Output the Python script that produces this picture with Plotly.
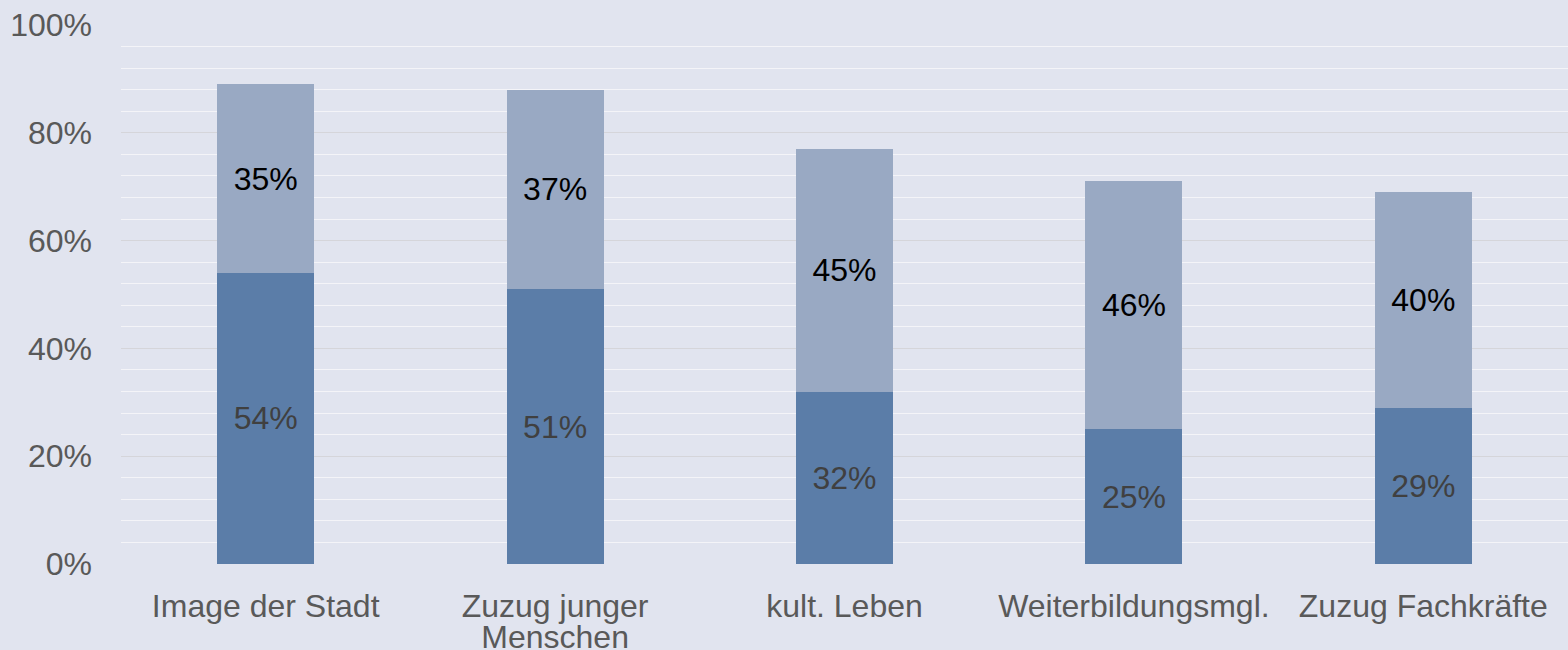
import plotly.graph_objects as go

categories = ["Image der Stadt", "Zuzug junger<br>Menschen", "kult. Leben", "Weiterbildungsmgl.", "Zuzug Fachkräfte"]
bottom_values = [54, 51, 32, 25, 29]
top_values = [35, 37, 45, 46, 40]
y_ticks = [0, 20, 40, 60, 80, 100]
y_tick_labels = [f"{v}%" for v in y_ticks]

FONT = "Liberation Sans, Arial, sans-serif"

# tick text rendered at 32px while line spacing follows the 24px base font
x_tick_text = [
    "<br>".join(f'<span style="font-size:32px">{part}</span>' for part in c.split("<br>"))
    for c in categories
]

fig = go.Figure()
fig.add_trace(go.Bar(
    x=categories, y=bottom_values,
    marker=dict(color="#5B7DA8", line=dict(width=0)),
    text=[f"{v}%" for v in bottom_values],
    textposition="inside", insidetextanchor="middle", textangle=0,
    textfont=dict(family=FONT, size=32, color="#404040"),
    hoverinfo="skip",
))
fig.add_trace(go.Bar(
    x=categories, y=top_values,
    marker=dict(color="#99A9C3", line=dict(width=0)),
    text=[f"{v}%" for v in top_values],
    textposition="inside", insidetextanchor="middle", textangle=0,
    textfont=dict(family=FONT, size=32, color="#000000"),
    hoverinfo="skip",
))

fig.update_layout(
    barmode="stack",
    bargap=0.665,
    width=1568, height=650,
    margin=dict(l=121, r=0, t=25, b=86, pad=0),
    paper_bgcolor="#E1E4EF",
    plot_bgcolor="#E1E4EF",
    showlegend=False,
    font=dict(family=FONT, size=32, color="#595959"),
)
fig.update_yaxes(
    range=[0, 100],
    automargin=False,
    tickmode="array",
    tickvals=y_ticks,
    ticktext=y_tick_labels,
    showgrid=True, gridcolor="#D5D5DA", gridwidth=1,
    zeroline=False,
    showline=False,
    ticks="", ticklabelstandoff=28,
    tickfont=dict(family=FONT, size=32, color="#595959"),
    minor=dict(dtick=4, tick0=0, showgrid=True, gridcolor="#F4F4F8", gridwidth=1),
)
fig.update_xaxes(
    automargin=False,
    tickmode="array",
    tickvals=categories,
    ticktext=x_tick_text,
    showgrid=False, showline=False, zeroline=False,
    ticks="", ticklabelstandoff=28,
    tickfont=dict(family=FONT, size=24, color="#595959"),
)

fig.write_html(
    "out.html",
    config={"displayModeBar": False},
    post_script="document.body.style.margin='0';document.body.style.overflow='hidden';",
)
